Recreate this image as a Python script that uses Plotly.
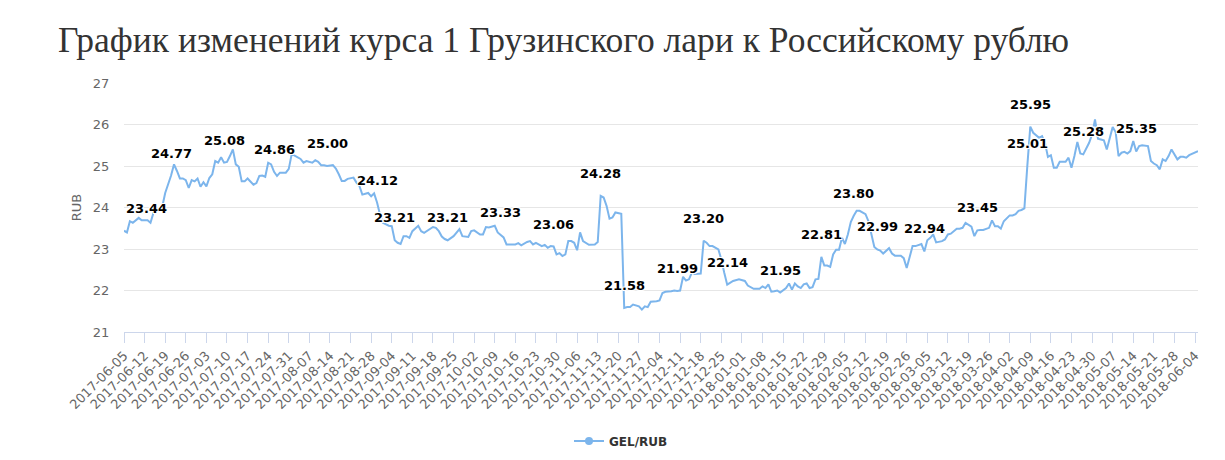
import pandas as pd
import plotly.graph_objects as go

start_date = "2017-06-05"
end_date = "2018-06-05"

# day offsets from start_date and GEL/RUB rate
days = [0, 1, 2, 3, 5, 6, 8, 9, 10, 12, 13, 14, 16, 17, 18, 19, 20, 21, 22, 23, 24, 25, 26, 27, 28, 29, 30,
        31, 32, 33, 34, 35, 36, 37, 38, 39, 40, 41, 42, 43, 44, 45, 46, 47, 48, 49, 50, 51, 52, 53, 55, 56,
        57, 58, 60, 61, 62, 64, 65, 66, 67, 68, 69, 71, 72, 73, 74, 75, 76, 78, 79, 80, 81, 82, 83, 84, 85,
        86, 87, 88, 89, 90, 91, 92, 93, 94, 95, 96, 97, 98, 100, 101, 102, 103, 105, 106, 107, 108, 109, 110,
        112, 114, 115, 117, 118, 119, 121, 122, 123, 124, 126, 127, 128, 129, 130, 132, 133, 134, 135, 137,
        138, 139, 140, 142, 143, 144, 145, 146, 147, 148, 149, 150, 151, 152, 153, 154, 155, 156, 157, 158,
        160, 161, 162, 163, 164, 165, 166, 167, 169, 170, 171, 172, 173, 175, 176, 177, 178, 179, 181, 182,
        183, 184, 186, 187, 188, 189, 190, 191, 192, 193, 194, 195, 196, 197, 198, 199, 200, 202, 203, 204,
        205, 207, 208, 209, 211, 212, 214, 216, 217, 218, 219, 220, 221, 222, 223, 225, 226, 227, 228, 229,
        230, 231, 232, 233, 234, 235, 236, 237, 238, 239, 240, 241, 242, 243, 244, 245, 246, 247, 248, 249,
        250, 252, 253, 254, 255, 256, 257, 258, 260, 261, 262, 264, 265, 266, 267, 268, 269, 271, 272, 273,
        274, 275, 276, 278, 279, 280, 281, 283, 284, 285, 286, 288, 289, 290, 291, 292, 294, 295, 296, 297,
        298, 299, 301, 302, 303, 304, 305, 306, 307, 308, 309, 311, 312, 313, 314, 315, 316, 317, 318, 320,
        321, 322, 323, 324, 325, 326, 328, 329, 330, 331, 332, 333, 334, 335, 336, 337, 338, 339, 340, 341,
        342, 343, 344, 345, 346, 348, 349, 350, 351, 352, 353, 354, 355, 356, 358, 359, 360, 361, 362, 365]

rates = [23.44, 23.40, 23.67, 23.63, 23.75, 23.69, 23.69, 23.63, 23.87, 23.95, 24.02, 24.35, 24.77, 25.04,
         24.88, 24.70, 24.70, 24.66, 24.47, 24.66, 24.63, 24.70, 24.50, 24.61, 24.51, 24.71, 24.80,
         25.12, 25.08, 25.21, 25.08, 25.10, 25.24, 25.40, 25.04, 24.98, 24.63, 24.63, 24.70, 24.63, 24.55,
         24.59, 24.76, 24.77, 24.74, 25.08, 25.04, 24.86, 24.76, 24.84, 24.84, 24.93,
         25.29, 25.25, 25.17, 25.08, 25.12, 25.08, 25.14, 25.10, 25.02, 25.02, 25.00, 25.02, 24.94, 24.80,
         24.64, 24.64, 24.69, 24.72, 24.60, 24.52, 24.31, 24.33, 24.35, 24.27, 24.34,
         24.12, 23.83, 23.63, 23.59, 23.56, 23.55, 23.21, 23.15, 23.12, 23.31, 23.31, 23.27, 23.43, 23.56,
         23.43, 23.39, 23.43, 23.53, 23.51, 23.43, 23.30, 23.24, 23.21,
         23.31, 23.48, 23.31, 23.29, 23.43, 23.45, 23.35, 23.35, 23.53, 23.52, 23.56, 23.40, 23.33, 23.28,
         23.11, 23.10, 23.11, 23.14, 23.09, 23.17,
         23.19, 23.11, 23.15, 23.07, 23.10, 23.03, 23.07, 23.06, 22.87, 22.90, 22.83, 22.87, 23.19, 23.19,
         23.15, 22.97, 23.40, 23.19, 23.15, 23.10,
         23.11, 23.17, 24.28, 24.24, 24.04, 23.73, 23.76, 23.88, 23.85, 21.58, 21.60, 21.60, 21.66, 21.62,
         21.54, 21.62, 21.60, 21.73, 21.74, 21.76,
         21.94, 21.97, 21.98, 22.00, 21.99, 22.00, 22.33, 22.24, 22.27, 22.43, 22.40, 22.41, 22.41, 23.20,
         23.15, 23.07, 23.07, 22.99, 22.75, 22.43,
         22.14, 22.23, 22.25, 22.27, 22.23, 22.12, 22.04, 22.04, 22.10, 22.06, 22.15, 21.97, 21.98, 22.00,
         21.95, 22.06, 22.17, 22.02, 22.17, 22.10,
         22.06, 22.15, 22.17, 22.06, 22.08, 22.27, 22.28, 22.81, 22.60, 22.60, 22.57, 22.87, 22.98, 22.98,
         23.27, 23.12, 23.35, 23.65, 23.80, 23.92,
         23.92, 23.84, 23.67, 23.33, 23.05, 22.99, 22.96, 22.89, 23.02, 22.89, 22.84, 22.84, 22.78, 22.54,
         22.82, 23.07, 23.07, 23.12, 22.94, 23.21,
         23.27, 23.35, 23.16, 23.19, 23.23, 23.35, 23.37, 23.49, 23.49, 23.51, 23.63, 23.54, 23.31, 23.45,
         23.46, 23.46, 23.51, 23.69, 23.55, 23.55,
         23.49, 23.67, 23.81, 23.81, 23.84, 23.92, 23.94, 23.98, 25.01, 25.95, 25.80, 25.68, 25.72, 25.56,
         25.22, 25.26, 24.96, 24.96, 25.10, 25.10,
         25.20, 24.96, 25.24, 25.58, 25.30, 25.28, 25.56, 25.76, 26.12, 25.66, 25.64, 25.62, 25.40, 25.64,
         25.94, 25.82, 25.24, 25.32, 25.34, 25.30,
         25.36, 25.60, 25.35, 25.48, 25.50, 25.48, 25.12, 25.06, 25.02, 24.92, 25.16, 25.12, 25.24, 25.40,
         25.16, 25.22, 25.22, 25.20, 25.26, 25.36]

labeled_days = [0, 16, 34, 51, 69, 86, 92, 110, 128, 146, 162, 170, 188, 197, 205, 223, 237, 248,
                256, 272, 290, 307, 308, 326, 344]

series_name = "GEL/RUB"
y_title = "RUB"
chart_title = "График изменений курса 1 Грузинского лари к Российскому рублю"

dates = pd.to_datetime(start_date) + pd.to_timedelta(days, unit="D")
rate_by_day = dict(zip(days, rates))

# the page body has an 8px default margin, so the figure is 8px smaller
W, H = 1217, 452

LINE = "#7cb5ec"
fig = go.Figure()
fig.add_trace(go.Scatter(x=dates, y=rates, mode="lines", line=dict(color=LINE, width=2),
                         showlegend=False, hoverinfo="x+y"))
fig.add_trace(go.Scatter(x=[None], y=[None], mode="lines+markers", name=series_name,
                         line=dict(color=LINE, width=2), marker=dict(color=LINE, size=8)))

shadow = "1px 1px 0px #fff, -1px -1px 0px #fff, 1px -1px 0px #fff, -1px 1px 0px #fff"
for i, d in enumerate(labeled_days):
    v = rate_by_day[d]
    fig.add_annotation(x=pd.to_datetime(start_date) + pd.Timedelta(days=d), y=v,
                       text=f"{v:.2f}", showarrow=False,
                       xanchor="left" if i == 0 else "center", yanchor="bottom", yshift=13,
                       font=dict(family="DejaVu Sans", size=13, color="#000000", weight="bold",
                                 shadow=shadow))

fig.update_layout(
    width=W, height=H,
    margin=dict(l=116, r=27, t=75, b=128),
    paper_bgcolor="white", plot_bgcolor="white",
    title=dict(text=chart_title, x=50 / W, xanchor="left", y=1 - 32 / H, yanchor="middle",
               font=dict(family="Liberation Serif", size=35.5, color="#333333")),
    xaxis=dict(type="date", range=[start_date, end_date], tick0=start_date, dtick=7 * 24 * 3600 * 1000,
               tickformat="%Y-%m-%d", tickangle=-45, ticks="outside", ticklen=10, tickcolor="#ccd6eb",
               showline=True, linecolor="#ccd6eb", linewidth=1, showgrid=False, zeroline=False,
               automargin=False,
               tickfont=dict(family="DejaVu Sans", size=13, color="#666666")),
    yaxis=dict(range=[21, 27], dtick=1, showgrid=True, gridcolor="#e6e6e6", gridwidth=1,
               zeroline=False, showline=False, ticks="outside", ticklen=11, tickcolor="rgba(0,0,0,0)",
               automargin=False,
               tickfont=dict(family="DejaVu Sans", size=13, color="#666666"),
               title=dict(text=y_title, standoff=8, font=dict(family="DejaVu Sans", size=13, color="#666666"))),
    legend=dict(orientation="h", xref="container", yref="container", x=561 / W, xanchor="left",
                y=19 / H, yanchor="middle",
                font=dict(family="DejaVu Sans", size=12, color="#333333", weight="bold")),
    hovermode="closest",
)

fig.write_html("out.html")
